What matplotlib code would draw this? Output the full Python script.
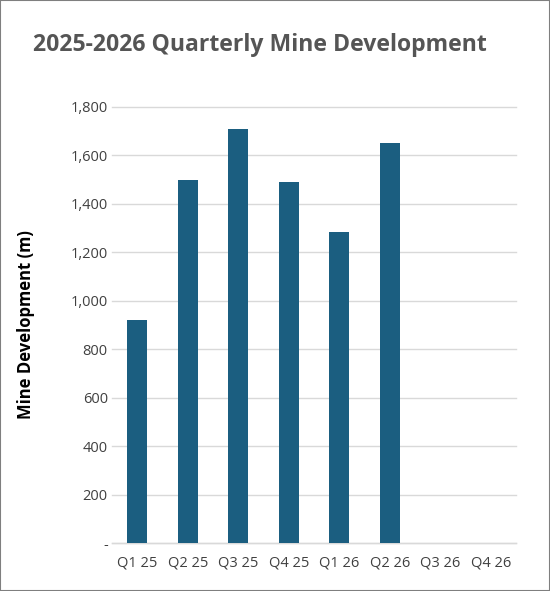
import matplotlib
matplotlib.use("Agg")
import matplotlib.pyplot as plt
from matplotlib.ticker import FuncFormatter
from matplotlib.patches import Rectangle

quarters = ["Q1 25", "Q2 25", "Q3 25", "Q4 25", "Q1 26", "Q2 26", "Q3 26", "Q4 26"]
development = [920, 1500, 1710, 1490, 1285, 1650, None, None]
yticks = [0, 200, 400, 600, 800, 1000, 1200, 1400, 1600, 1800]

bar_color = "#1b5e80"
text_gray = "#595959"

fig = plt.figure(figsize=(5.5, 5.91), dpi=100)
ax = fig.add_axes([112/550, 1-543/591, 404/550, (543-107)/591])

xs = list(range(len(quarters)))
vals = [v if v is not None else 0 for v in development]
ax.bar(xs, vals, width=0.4, color=bar_color, zorder=3)

ax.set_xlim(-0.5, len(quarters) - 0.5)
ax.set_ylim(0, 1800)
ax.set_yticks(yticks)
ax.yaxis.set_major_formatter(FuncFormatter(lambda v, p: "-" if v == 0 else f"{int(v):,}"))
ax.set_xticks(xs)
ax.set_xticklabels(quarters)
ax.grid(axis="y", color="#d9d9d9", linewidth=1, zorder=0)
for line in ax.get_ygridlines():
    line.set_clip_on(False)
for s in ["top", "right", "left"]:
    ax.spines[s].set_visible(False)
ax.spines["bottom"].set_color("#d9d9d9")
ax.spines["bottom"].set_linewidth(1)
ax.tick_params(axis="both", length=0, labelsize=10.5, labelcolor="#404040")
ax.tick_params(axis="x", pad=9)
for lab in ax.get_yticklabels() + ax.get_xticklabels():
    lab.set_fontfamily("Open Sans")
ax.yaxis.set_tick_params(pad=3)

ax.set_ylabel("Mine Development (m)", fontsize=12, fontweight="bold", color="black",
              fontfamily="Open Sans")
ax.yaxis.set_label_coords(-0.19, 0.5)

fig.text(260/550, 1-45/591, "2025-2026 Quarterly Mine Development", ha="center", va="center",
         fontsize=16.6, fontweight="bold", color="#555555", fontfamily="Open Sans")

fig.patches.append(Rectangle((0, 0), 1, 1, transform=fig.transFigure, fill=False,
                             edgecolor="#7f7f7f", linewidth=1.5))

fig.savefig("out.png", dpi=100)
